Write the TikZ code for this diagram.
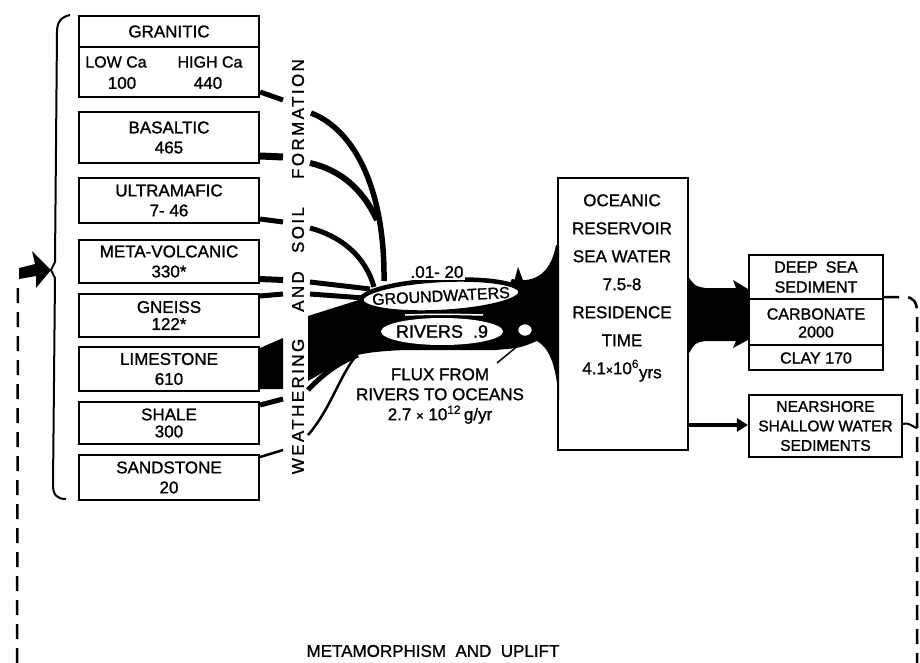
\documentclass[tikz,border=0pt]{standalone}
\usepackage{fontspec}
\setmainfont{Liberation Sans}[FakeBold=1.2]
\usetikzlibrary{shapes.geometric,arrows.meta}
\begin{document}
\begin{tikzpicture}[x=1pt,y=-1pt,
  lab/.style={font=\fontsize{17}{20}\selectfont, align=center, inner sep=0pt},
  box/.style={draw, line width=2.2pt, minimum width=180pt, inner sep=0pt, align=center, font=\fontsize{17}{20}\selectfont},
  vlab/.style={font=\fontsize{17}{17}\selectfont\addfontfeatures{LetterSpace=14}, inner sep=0pt, rotate=90},
  dashline/.style={dash pattern=on 15pt off 9pt, line width=2.5pt},
  stub/.style={line width=5pt, line cap=butt},
  flow/.style={line width=5.5pt, line cap=butt}
]
\useasboundingbox (0,0) rectangle (920,663);

% ---------------- rock boxes ----------------
\node[box, minimum height=81pt] (gran) at (169,56.5) {};
\draw[line width=2.2pt] (gran.west |- 0,47) -- (gran.east |- 0,47);
\node[lab] (granT) at (169,31.5) {GRANITIC};
\node[lab, font=\fontsize{16}{16}\selectfont] (lowca) at (116,62) {LOW Ca};
\node[lab, font=\fontsize{16}{16}\selectfont] (highca) at (210,62) {HIGH Ca};
\node[lab] (g100) at (122,83) {100};
\node[lab] (g440) at (208,83) {440};

\node[box, minimum height=51pt] (bas) at (169,137.5) {BASALTIC\\465};
\node[box, minimum height=45pt] (ultra) at (169,200.5) {ULTRAMAFIC\\7- 46};
\node[box, minimum height=43pt] (metav) at (169,261.5) {META-VOLCANIC\\330*};
\node[box, minimum height=43pt] (gneiss) at (169,315.5) {GNEISS\\[-3pt]122*};
\node[box, minimum height=44pt] (lime) at (169,369) {LIMESTONE\\610};
\node[box, minimum height=42pt] (shale) at (169,423) {SHALE\\[-3pt]300};
\node[box, minimum height=45pt] (sand) at (169,477.5) {SANDSTONE\\20};

% bracket
\draw[line width=2pt] (70,15) .. controls (61,17) and (57,22) .. (57,32) -- (55,262) -- (51,270) -- (55,278) -- (53,485) .. controls (53,495) and (57,499) .. (66,499);

% return arrow (metamorphism and uplift)
\coordinate (upl) at (17,663);
\draw[dashline] (upl) -- (18,282);
\fill (51,270) -- (32,251) -- (35,264) -- (19,268) -- (19,279) -- (36,276) -- (36,288) -- cycle;

% stubs from boxes
\draw[stub] (gran.east |- 0,92) -- (283,100);
\draw[stub, line width=7pt] (bas.east |- 0,156) -- (283,157);
\draw[stub] (ultra.east |- 0,219) -- (283,222);
\draw[stub, line width=6pt] (metav.east |- 0,279) -- (283,280);
\draw[stub] (gneiss.east |- 0,296) -- (283,294);
\fill (lime.east |- 0,348) -- (283,338) -- (283,389) -- (lime.east |- 0,389) -- cycle;
\draw[stub] (shale.east |- 0,405) -- (283,399);
\draw[stub, line width=2.5pt] (sand.east |- 0,457) -- (283,450);

% vertical label
\node[vlab] (wea) at (298,406.5) {WEATHERING};
\node[vlab] (andw) at (298,291.5) {AND};
\node[vlab] (soil) at (298,230) {SOIL};
\node[vlab] (form) at (298,119) {FORMATION};

% main flux band
\fill (308,316) -- (365,298) -- (505,292) -- (512,279) .. controls (530,283) and (550,278) .. (556,245) -- (559,245) -- (559,400)
  .. controls (556,370) and (552,350) .. (537,341) .. controls (520,348) .. (495,350) -- (405,350)
  .. controls (380,351) and (360,353) .. (348,358) -- (308,381) -- cycle;
\fill (514,282) -- (518,267) -- (524,283) -- cycle;

% converging flows
\draw[flow] (311,113) .. controls (355,130) and (385,190) .. (384,281);
\draw[flow, line width=6pt] (310,163) .. controls (340,170) and (362,188) .. (377,220);
\draw[flow, line width=5pt] (310,228) .. controls (340,236) and (365,255) .. (374,287);
\draw[flow, line width=5pt] (310,282) -- (370,289);
\draw[flow, line width=5pt] (310,294) -- (364,298);
\draw[line width=5pt] (308,390) .. controls (325,372) and (340,362) .. (358,355);
\draw[line width=2.5pt] (308,435) .. controls (330,410) and (340,375) .. (356,356);

% groundwaters
\node[ellipse, draw, line width=4.5pt, fill=white, minimum width=160pt, minimum height=32pt, rotate=3] (gw) at (441,296) {};
\node[lab, font=\fontsize{16}{16}\selectfont, rotate=3] (gwt) at (gw.center) {GROUNDWATERS};
\node[lab, fill=white, inner sep=2pt, font=\fontsize{17}{17}\selectfont] (gwv) at (437,272) {.01- 20};
\draw[white, line width=1.5pt] (405,315) .. controls (440,314) .. (483,315);

% rivers
\node[ellipse, fill=white, minimum width=122pt, minimum height=27pt, inner sep=0pt] (riv) at (442,331.5) {};
\node[lab, font=\fontsize{18}{18}\selectfont] (rivt) at (riv.center) {RIVERS\hspace{10pt}.9};

% pointer loop and label
\node[ellipse, draw, line width=1.5pt, fill=white, minimum width=15pt, minimum height=13pt, inner sep=0pt] (loop) at (525,330) {};
\coordinate (lead) at (497,363);
\draw[line width=1.5pt] (loop.south east) -- (lead);
\node[lab] (fluxl) at (440,396) {FLUX FROM\\RIVERS TO OCEANS\\2.7 {\fontsize{13}{13}\selectfont ×} 10\textsuperscript{12}\,g/yr};

% ocean
\node[draw, line width=2.2pt, minimum width=130pt, minimum height=272pt, inner sep=0pt] (ocean) at (623,314) {};
\node[lab, font=\fontsize{17}{28}\selectfont] (oceant) at (622,288) {OCEANIC\\RESERVOIR\\SEA WATER\\7.5-8\\RESIDENCE\\TIME\\4.1{\fontsize{12}{12}\selectfont ×}10\textsuperscript{6}\raisebox{-4pt}{yrs}};

% sediments
\node[draw, line width=2.2pt, minimum width=134pt, minimum height=115pt, inner sep=0pt] (deep) at (816,312.5) {};
\draw[line width=2.2pt] (deep.west |- 0,299) -- (deep.east |- 0,299);
\draw[line width=2.2pt] (deep.west |- 0,345) -- (deep.east |- 0,345);
\node[lab, font=\fontsize{16}{20}\selectfont] (deept) at (816,277) {DEEP\enspace SEA\\SEDIMENT};
\node[lab, font=\fontsize{16}{18}\selectfont] (carb) at (816,323) {CARBONATE\\2000};
\node[lab, font=\fontsize{16}{18}\selectfont] (clay) at (816,358) {CLAY 170};

\node[draw, line width=2.2pt, minimum width=153pt, minimum height=62pt, inner sep=0pt, align=center, font=\fontsize{15.5}{19.5}\selectfont] (near) at (825.5,426) {NEARSHORE\\SHALLOW WATER\\SEDIMENTS};

% ocean to sediments
\fill (ocean.east |- 0,278) .. controls (695,286) .. (705,288) -- (736,288) -- (733,280) -- (deep.west |- 0,289)
  -- (deep.west |- 0,340) -- (733,348) -- (736,341) -- (705,341) .. controls (695,343) .. (ocean.east |- 0,353) -- cycle;
\draw[line width=4pt, -{Triangle[length=11pt,width=13pt]}] (ocean.east |- 0,425) -- (near.west |- 0,425);

% return lines on the right
\coordinate (rbot) at (917,663);
\draw[dashline] (deep.east |- 0,297) -- (905,297) .. controls (913,297) and (917,302) .. (917,312) -- (rbot);
\draw[line width=2pt] (near.east |- 0,424) .. controls (910,422) and (914,428) .. (917,428);

\node[lab] (metam) at (433,651) {METAMORPHISM\ \ AND\ \ UPLIFT};
\end{tikzpicture}
\end{document}
